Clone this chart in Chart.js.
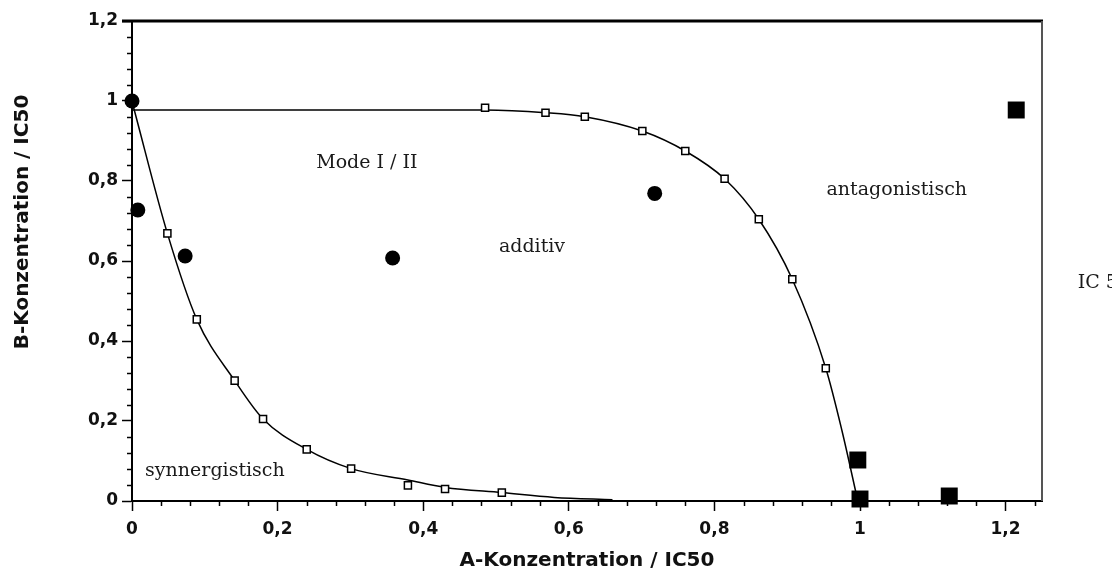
<!DOCTYPE html>
<html>
<head>
<meta charset="utf-8">
<script src="https://cdn.jsdelivr.net/npm/chart.js@4/dist/chart.umd.min.js"></script>
<style>
  body { margin: 0; background: #fff; }
  #wrap { width: 1112px; height: 569px; }
</style>
</head>
<body>
<div id="wrap"><canvas id="chart"></canvas></div>
<script>
// values
const synCurveX = [0.002, 0.0486, 0.089, 0.141, 0.180, 0.240, 0.301, 0.379, 0.430, 0.508, 0.58, 0.66];
const synCurveY = [0.985, 0.669, 0.454, 0.301, 0.205, 0.129, 0.081, 0.0525, 0.034, 0.021, 0.009, 0.003];

const synSquaresX = [0.0486, 0.089, 0.141, 0.180, 0.240, 0.301, 0.379, 0.430, 0.508];
const synSquaresY = [0.669, 0.454, 0.301, 0.205, 0.129, 0.081, 0.039, 0.030, 0.021];

const antCurveX = [0, 0.485, 0.568, 0.622, 0.701, 0.760, 0.814, 0.861, 0.907, 0.953, 0.975, 0.997];
const antCurveY = [0.9775, 0.9775, 0.9708, 0.9608, 0.925, 0.875, 0.8055, 0.7043, 0.5543, 0.3318, 0.1775, 0.0];

const antSquaresX = [0.485, 0.568, 0.622, 0.701, 0.760, 0.814, 0.861, 0.907, 0.953];
const antSquaresY = [0.983, 0.9708, 0.9608, 0.925, 0.875, 0.8055, 0.7043, 0.5543, 0.3318];

const mixCirclesX = [0, 0.008, 0.073, 0.358, 0.718];
const mixCirclesY = [1.0, 0.7275, 0.6125, 0.6075, 0.769];

const singleSquaresX = [0.997, 1.0, 1.1226, 1.2146];
const singleSquaresY = [0.1025, 0.005, 0.0125, 0.9775];

const xTicks = [0, 0.2, 0.4, 0.6, 0.8, 1, 1.2];
const yTicks = [0, 0.2, 0.4, 0.6, 0.8, 1, 1.2];

const xTitle = 'A-Konzentration / IC50';
const yTitle = 'B-Konzentration / IC50';
const regionLabels = ['Mode I / II', 'additiv', 'antagonistisch', 'synnergistisch', 'IC 50'];
// where the labels sit, in axis units (left edge, baseline)
const regionPos = [[0.253, 0.8325], [0.504, 0.6225], [0.954, 0.765], [0.018, 0.0625], [1.299, 0.532]];

const pts = (xs, ys) => xs.map((v, i) => ({x: v, y: ys[i]}));
const fmt = v => String(Math.round(v * 10) / 10).replace('.', ',');

const frame = {
    id: 'frame',
    afterDraw(chart) {
        const {ctx, chartArea: a, scales: {x, y}} = chart;
        ctx.save();
        ctx.strokeStyle = '#000';
        ctx.lineWidth = 1.5;
        // minor ticks every 0.04
        for (let k = 1; k * 0.04 <= 1.25; k++) {
            if (k % 5 === 0) continue;
            const px = Math.round(x.getPixelForValue(k * 0.04)) + 0.5;
            ctx.beginPath();
            ctx.moveTo(px, a.bottom);
            ctx.lineTo(px, a.bottom + 5);
            ctx.stroke();
        }
        for (let k = 1; k * 0.04 < 1.2; k++) {
            if (k % 5 === 0) continue;
            const py = Math.round(y.getPixelForValue(k * 0.04)) + 0.5;
            ctx.beginPath();
            ctx.moveTo(a.left - 5, py);
            ctx.lineTo(a.left, py);
            ctx.stroke();
        }
        // top + right frame
        ctx.lineWidth = 3;
        ctx.beginPath();
        ctx.moveTo(a.left - 10, a.top);
        ctx.lineTo(a.right + 1, a.top);
        ctx.stroke();
        ctx.strokeStyle = '#555';
        ctx.lineWidth = 2;
        ctx.beginPath();
        ctx.moveTo(a.right, a.top);
        ctx.lineTo(a.right, a.bottom);
        ctx.stroke();

        // axis titles
        ctx.fillStyle = '#111';
        ctx.font = 'bold 20px "DejaVu Sans"';
        ctx.textAlign = 'center';
        ctx.textBaseline = 'alphabetic';
        ctx.fillText(xTitle, (a.left + a.right) / 2, 566);
        ctx.translate(28, 222);
        ctx.rotate(-Math.PI / 2);
        ctx.fillText(yTitle, 0, 0);
        ctx.setTransform(1, 0, 0, 1, 0, 0);

        // region labels
        ctx.font = '19px "DejaVu Serif"';
        ctx.textAlign = 'left';
        ctx.fillStyle = '#1a1a1a';
        regionLabels.forEach((t, i) => {
            const [vx, vy] = regionPos[i];
            ctx.fillText(t, x.getPixelForValue(vx), y.getPixelForValue(vy));
        });
        ctx.restore();
    }
};

const tickFont = {family: 'DejaVu Sans', weight: 'bold', size: 17};

new Chart(document.getElementById('chart'), {
    type: 'scatter',
    data: {
        datasets: [
            {
                data: pts(mixCirclesX, mixCirclesY),
                pointStyle: 'circle', pointRadius: 7.5, pointHoverRadius: 7.5,
                backgroundColor: '#000', borderColor: '#000', borderWidth: 0,
                order: 1, clip: false
            },
            {
                data: pts(singleSquaresX, singleSquaresY),
                pointStyle: 'rect', pointRadius: 12, pointHoverRadius: 12,
                backgroundColor: '#000', borderColor: '#000', borderWidth: 0,
                order: 1, clip: false
            },
            {
                data: pts(synSquaresX, synSquaresY),
                pointStyle: 'rect', pointRadius: 5, pointHoverRadius: 5,
                backgroundColor: '#fff', borderColor: '#000', borderWidth: 1.5,
                order: 2, clip: false
            },
            {
                data: pts(antSquaresX, antSquaresY),
                pointStyle: 'rect', pointRadius: 5, pointHoverRadius: 5,
                backgroundColor: '#fff', borderColor: '#000', borderWidth: 1.5,
                order: 2, clip: false
            },
            {
                data: pts(synCurveX, synCurveY),
                showLine: true, pointRadius: 0, borderColor: '#000', borderWidth: 1.5,
                cubicInterpolationMode: 'monotone', order: 3, clip: false
            },
            {
                data: pts(antCurveX, antCurveY),
                showLine: true, pointRadius: 0, borderColor: '#000', borderWidth: 1.5,
                cubicInterpolationMode: 'monotone', order: 3, clip: false
            }
        ]
    },
    options: {
        responsive: true,
        maintainAspectRatio: false,
        animation: false,
        layout: {padding: {top: 21, right: 70, left: 0, bottom: 0}},
        plugins: {legend: {display: false}, tooltip: {enabled: false}},
        scales: {
            x: {
                type: 'linear', min: 0, max: 1.25,
                afterFit: s => { s.height = 68; },
                afterBuildTicks: s => { s.ticks = xTicks.map(v => ({value: v})); },
                ticks: {callback: fmt, font: tickFont, color: '#111', padding: 8, maxRotation: 0},
                grid: {drawOnChartArea: false, drawTicks: true, tickLength: 10, tickColor: '#000', tickWidth: 1.5},
                border: {display: true, color: '#000', width: 2}
            },
            y: {
                type: 'linear', min: 0, max: 1.2,
                afterFit: s => { s.width = 132; },
                afterBuildTicks: s => { s.ticks = yTicks.map(v => ({value: v})); },
                ticks: {callback: fmt, font: tickFont, color: '#111', padding: 4},
                grid: {drawOnChartArea: false, drawTicks: true, tickLength: 10, tickColor: '#000', tickWidth: 1.5},
                border: {display: true, color: '#000', width: 2}
            }
        }
    },
    plugins: [frame]
});
</script>
</body>
</html>
